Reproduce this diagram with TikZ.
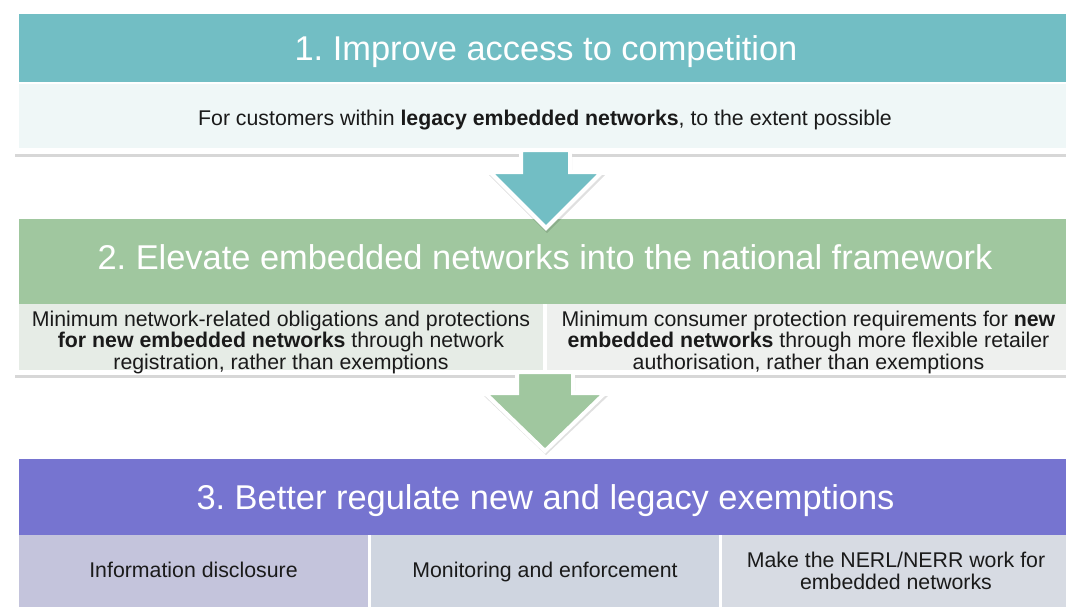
\documentclass[tikz,border=0pt]{standalone}
\usepackage{fontspec}
\setmainfont{Liberation Sans}
\frenchspacing
\definecolor{tealhead}{RGB}{114,190,196}
\definecolor{tealbody}{RGB}{239,247,247}
\definecolor{greenhead}{RGB}{160,199,159}
\definecolor{greenleft}{RGB}{230,236,230}
\definecolor{greenright}{RGB}{238,240,238}
\definecolor{purplehead}{RGB}{118,116,208}
\definecolor{purpleA}{RGB}{196,196,220}
\definecolor{purpleB}{RGB}{207,213,224}
\definecolor{purpleC}{RGB}{215,219,227}
\definecolor{inktext}{RGB}{26,26,26}
\definecolor{shadowgrey}{RGB}{215,215,215}
\begin{document}
\begin{tikzpicture}[x=1pt,y=-1pt,
  frame/.style={fill=white},
  frameshadow/.style={fill=shadowgrey},
  band/.style={anchor=north west, inner sep=0pt},
  headtext/.style={anchor=base, inner sep=0pt, text=white,
    font=\fontsize{34.4}{40}\selectfont},
  celltext/.style={anchor=base, inner sep=0pt, text=inktext,
    font=\fontsize{21.3}{21.5}\selectfont, align=center},
  blockarrow/.style={draw=white, line width=4pt, line join=miter},
  arrowshadow/.style={fill=black, opacity=0.12}
]
\useasboundingbox (0,0) rectangle (1066,606);
\fill[white] (0,0) rectangle (1066,606);

% ---- Step 1 ----
\fill[frameshadow] (15,12) rectangle (1070,157);
\fill[frame] (14,10) rectangle (1070,154);
\node[band, fill=tealhead, minimum width=1052pt, minimum height=68pt] (h1) at (19,14) {};
\node[band, fill=tealbody, minimum width=1052pt, minimum height=64pt] (b1) at (19,84) {};
\node[headtext] (h1t) at (546,60) {1. Improve access to competition};
\node[celltext] (b1t) at (545,125)
  {For customers within \textbf{legacy embedded networks}, to the extent possible};

% ---- Step 2 ----
\fill[frameshadow] (15,217) rectangle (1070,378);
\fill[frame] (14,215) rectangle (1070,375);
\node[band, fill=greenhead, minimum width=1052pt, minimum height=85pt] (h2) at (19,219) {};
\node[band, fill=greenleft, minimum width=524pt, minimum height=66pt] (b2a) at (19,304) {};
\node[band, fill=greenright, minimum width=523pt, minimum height=66pt] (b2b) at (547,304) {};
\node[headtext] (h2t) at (545,269)
  {2. Elevate embedded networks into the national framework};
% multi-line texts are placed by the baseline of their last line
\node[celltext] (b2at) at (281,369)
  {Minimum network-related obligations and protections\\
   \textbf{for new embedded networks} through network\\
   registration, rather than exemptions};
\node[celltext] (b2bt) at (808.5,369)
  {Minimum consumer protection requirements for \textbf{new}\\
   \textbf{embedded networks} through more flexible retailer\\
   authorisation, rather than exemptions};

% ---- Step 3 ----
\fill[frameshadow] (15,457) rectangle (1070,610);
\fill[frame] (14,455) rectangle (1070,610);
\node[band, fill=purplehead, minimum width=1052pt, minimum height=76pt] (h3) at (19,459) {};
\node[band, fill=purpleA, minimum width=349pt, minimum height=72pt] (b3a) at (19,535) {};
\node[band, fill=purpleB, minimum width=348pt, minimum height=72pt] (b3b) at (371,535) {};
\node[band, fill=purpleC, minimum width=348pt, minimum height=72pt] (b3c) at (722,535) {};
\node[headtext] (h3t) at (545.5,509) {3. Better regulate new and legacy exemptions};
\node[celltext] (b3at) at (193.5,577.5) {Information disclosure};
\node[celltext] (b3bt) at (545,577.5) {Monitoring and enforcement};
\node[celltext] (b3ct) at (896,589) {Make the NERL/NERR work for\\embedded networks};

% ---- Block arrows between the steps ----
\fill[arrowshadow] (522,153) -- (572,153) -- (572,175) -- (605,175) -- (547,233)
  -- (489,175) -- (522,175) -- cycle;
\filldraw[blockarrow, fill=tealhead] (521,150) -- (570,150) -- (570,172) -- (602,172)
  -- (546,228) -- (490,172) -- (521,172) -- cycle;

\fill[arrowshadow] (518,375) -- (575,375) -- (575,396) -- (608,396) -- (546,455)
  -- (484,396) -- (518,396) -- cycle;
\filldraw[blockarrow, fill=greenhead] (517,372) -- (573,372) -- (573,393) -- (605,393)
  -- (545,451) -- (485,393) -- (517,393) -- cycle;
\end{tikzpicture}
\end{document}
